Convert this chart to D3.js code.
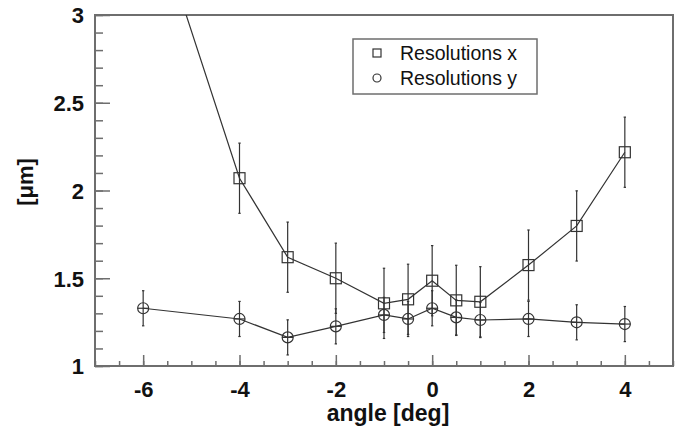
<!DOCTYPE html>
<html>
<head>
<meta charset="utf-8">
<script src="https://cdn.jsdelivr.net/npm/d3@7"></script>
<style>
body { margin: 0; background: #fff; }
text { font-family: "Liberation Sans", Arial, sans-serif; }
</style>
</head>
<body>
<svg id="chart" width="681" height="433"></svg>
<script>

// data
const angles = [-6, -4, -3, -2, -1, -0.5, 0, 0.5, 1, 2, 3, 4];
const resX = [3.75, 2.07, 1.62, 1.50, 1.357, 1.38, 1.486, 1.374, 1.366, 1.575, 1.798, 2.218];
const errX = [0.2, 0.2, 0.2, 0.2, 0.2, 0.2, 0.2, 0.2, 0.2, 0.2, 0.2, 0.2];
const resY = [1.329, 1.268, 1.163, 1.226, 1.291, 1.268, 1.329, 1.277, 1.262, 1.268, 1.249, 1.239];
const errY = [0.1, 0.1, 0.1, 0.1, 0.1, 0.1, 0.1, 0.1, 0.1, 0.1, 0.1, 0.1];
const xTickLabels = [-6, -4, -2, 0, 2, 4];
const yTickLabels = [1, 1.5, 2, 2.5, 3];
const legendLabels = ['Resolutions x', 'Resolutions y'];

const svg = d3.select('#chart');
const plotLeft = 95, plotRight = 673, plotTop = 15, plotBottom = 366;

const x = d3.scaleLinear().domain([-7, 5]).range([plotLeft, plotRight]);
const y = d3.scaleLinear().domain([1, 3]).range([plotBottom, plotTop]);

const frameColor = '#6e6e6e';
const ink = '#333';

// clip for data
svg.append('clipPath').attr('id', 'plotclip')
	.append('rect')
	.attr('x', plotLeft).attr('y', plotTop)
	.attr('width', plotRight - plotLeft).attr('height', plotBottom - plotTop);

// axes ticks (plain hyphen as minus, like the original)
let fmt = d => String(d);
let yMinor = d3.range(1, 3.0001, 0.1).map(d => +d.toFixed(2));
let yAxisMinor = d3.axisLeft(y).tickValues(yMinor).tickSize(-8).tickFormat('');
let yAxisMajor = d3.axisLeft(y).tickValues(yTickLabels).tickSize(-15).tickFormat(fmt);
let xMinor = d3.range(-7, 5.0001, 0.5);
let xAxisMinor = d3.axisBottom(x).tickValues(xMinor).tickSize(-5).tickFormat('');
let xAxisMajor = d3.axisBottom(x).tickValues(xTickLabels).tickSize(-11).tickFormat(fmt);

function styleAxis(g) {
	g.select('.domain').remove();
	g.selectAll('line').attr('stroke', frameColor).attr('stroke-width', 1.5);
	g.selectAll('text')
		.attr('fill', '#111')
		.style('font-size', '22px')
		.style('font-weight', 'bold');
}

svg.append('g').attr('transform', `translate(${plotLeft},0)`).call(yAxisMinor).call(styleAxis);
let gy = svg.append('g').attr('transform', `translate(${plotLeft},0)`).call(yAxisMajor).call(styleAxis);
gy.selectAll('text').attr('x', -11).attr('dy', '0.36em');
svg.append('g').attr('transform', `translate(0,${plotBottom})`).call(xAxisMinor).call(styleAxis);
let gx = svg.append('g').attr('transform', `translate(0,${plotBottom})`).call(xAxisMajor).call(styleAxis);
gx.selectAll('text').attr('y', 15).attr('dy', '0.71em');

// frame
svg.append('rect')
	.attr('x', plotLeft).attr('y', plotTop)
	.attr('width', plotRight - plotLeft).attr('height', plotBottom - plotTop)
	.attr('fill', 'none')
	.attr('stroke', frameColor)
	.attr('stroke-width', 2);

// axis titles
svg.append('text')
	.attr('x', (plotLeft + plotRight) / 2 + 4)
	.attr('y', 421)
	.attr('text-anchor', 'middle')
	.style('font-size', '23px')
	.style('font-weight', 'bold')
	.attr('fill', '#111')
	.text('angle [deg]');

svg.append('text')
	.attr('transform', 'translate(33,182) rotate(-90)')
	.attr('text-anchor', 'middle')
	.style('font-size', '22px')
	.style('font-weight', 'bold')
	.attr('fill', '#111')
	.text('[\u03bcm]');

// data
let plot = svg.append('g').attr('clip-path', 'url(#plotclip)');

let line = d3.line().x(d => x(d[0])).y(d => y(d[1]));

function drawSeries(vals, errs, shape) {
	let pts = angles.map((a, i) => [a, vals[i], errs[i]]);

	plot.append('path')
		.datum(pts)
		.attr('d', line)
		.attr('fill', 'none')
		.attr('stroke', ink)
		.attr('stroke-width', 1.2);

	let g = plot.append('g')
		.attr('stroke', ink)
		.attr('stroke-width', 1.2)
		.attr('fill', 'none');

	// error bars
	g.selectAll('line.err')
		.data(pts)
		.join('line')
		.attr('class', 'err')
		.attr('x1', d => x(d[0])).attr('x2', d => x(d[0]))
		.attr('y1', d => y(d[1] - d[2])).attr('y2', d => y(d[1] + d[2]));
	g.selectAll('line.capt')
		.data(pts.flatMap(d => [[d[0], d[1] - d[2]], [d[0], d[1] + d[2]]]))
		.join('line')
		.attr('class', 'capt')
		.attr('x1', d => x(d[0]) - 1.2).attr('x2', d => x(d[0]) + 1.2)
		.attr('y1', d => y(d[1])).attr('y2', d => y(d[1]));

	if (shape === 'square') {
		g.selectAll('rect')
			.data(pts)
			.join('rect')
			.attr('x', d => x(d[0]) - 5.5)
			.attr('y', d => y(d[1]) - 5.5)
			.attr('width', 11).attr('height', 11);
	} else {
		g.selectAll('circle')
			.data(pts)
			.join('circle')
			.attr('cx', d => x(d[0]))
			.attr('cy', d => y(d[1]))
			.attr('r', 5.5);
		g.selectAll('line.mid')
			.data(pts)
			.join('line')
			.attr('class', 'mid')
			.attr('x1', d => x(d[0]) - 5.5).attr('x2', d => x(d[0]) + 5.5)
			.attr('y1', d => y(d[1])).attr('y2', d => y(d[1]));
	}
}

drawSeries(resX, errX, 'square');
drawSeries(resY, errY, 'circle');

// legend
let legend = svg.append('g');
legend.append('rect')
	.attr('x', 353).attr('y', 39)
	.attr('width', 184).attr('height', 55)
	.attr('fill', '#fff')
	.attr('stroke', frameColor)
	.attr('stroke-width', 1.5);

legendLabels.forEach((label, i) => {
	let cy = 53 + i * 25;
	if (i === 0) {
		legend.append('rect')
			.attr('x', 373).attr('y', cy - 4)
			.attr('width', 8).attr('height', 8)
			.attr('fill', 'none').attr('stroke', ink).attr('stroke-width', 1.2);
	} else {
		legend.append('circle')
			.attr('cx', 377).attr('cy', cy)
			.attr('r', 4)
			.attr('fill', 'none').attr('stroke', ink).attr('stroke-width', 1.2);
	}
	legend.append('text')
		.attr('x', 400).attr('y', cy + 7)
		.style('font-size', '19.5px')
		.attr('fill', '#111')
		.text(label);
});

</script>
</body>
</html>
